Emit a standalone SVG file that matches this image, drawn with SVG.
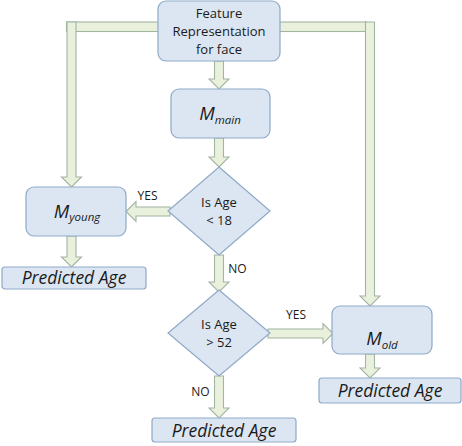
<svg xmlns="http://www.w3.org/2000/svg" width="462" height="446" viewBox="0 0 462 446">
<style>
.box{fill:#dce6f2;stroke:#8ea9c8;stroke-width:1.2}
.arr{fill:#e9f0dc;stroke:#a2b4a2;stroke-width:1.1}
.t{font-family:"Open Sans","Liberation Sans",sans-serif;fill:#1a1a1a;text-anchor:middle}
.n{font-size:13px}
.lbl{font-size:12px}
.m{font-style:italic;font-size:18.5px}
.s{font-style:italic;font-size:11.5px}
.p{font-style:italic;font-size:17.5px}
</style>
<rect width="462" height="446" fill="#ffffff"/>
<g id="connectors">
<rect class="arr" x="66.5" y="22" width="300" height="9.5"/>
<polygon class="arr" points="67,22 76,22 76,177 81.5,177 71.5,187 61.5,177 67,177"/>
<polygon class="arr" points="365.5,22 374.5,22 374.5,296 380,296 370,306 360,296 365.5,296"/>
<polygon class="arr" points="214.5,61 223.5,61 223.5,79 229,79 219,89 209,79 214.5,79"/>
<polygon class="arr" points="214.5,138 223.5,138 223.5,157 229,157 219,167 209,157 214.5,157"/>
<polygon class="arr" points="214.5,255 223.5,255 223.5,282 229,282 219,292 209,282 214.5,282"/>
<polygon class="arr" points="214.5,376 223.5,376 223.5,408 229,408 219,418 209,408 214.5,408"/>
<polygon class="arr" points="67,236 76,236 76,257 81.5,257 71.5,267 61.5,257 67,257"/>
<polygon class="arr" points="365.5,354 374.5,354 374.5,368 380,368 370,378 360,368 365.5,368"/>
<polygon class="arr" points="170,207 170,216 136,216 136,221.5 126,211.5 136,201.5 136,207"/>
<polygon class="arr" points="268,329 268,338 323,338 323,343.5 333,333.5 323,323.5 323,329"/>
<text class="t lbl" x="147.5" y="200">YES</text>
<text class="t lbl" x="237.5" y="272.5">NO</text>
<text class="t lbl" x="296" y="319">YES</text>
<text class="t lbl" x="200.5" y="396">NO</text>
</g>
<g id="feature">
<rect class="box" x="158" y="1" width="122" height="60" rx="8"/>
<text class="t n" x="219" y="18">Feature</text>
<text class="t n" x="219" y="36">Representation</text>
<text class="t n" x="219" y="54">for face</text>
</g>
<g id="m_main">
<rect class="box" x="171" y="89" width="99" height="49" rx="8"/>
<text class="t" x="220" y="120"><tspan class="m">M</tspan><tspan class="s" dy="4">main</tspan></text>
</g>
<g id="decision1">
<polygon class="box" points="219,167 270,211 219,255 168,211"/>
<text class="t n" x="219" y="207">Is Age</text>
<text class="t n" x="219" y="225">&lt; 18</text>
</g>
<g id="m_young">
<rect class="box" x="26" y="187" width="100" height="49" rx="8"/>
<text class="t" x="77" y="218"><tspan class="m">M</tspan><tspan class="s" dy="3">young</tspan></text>
</g>
<g id="pred_young">
<rect class="box" x="2" y="267" width="144" height="22" rx="3"/>
<text class="t p" x="74" y="284">Predicted Age</text>
</g>
<g id="decision2">
<polygon class="box" points="219,290 270,333 219,376 168,333"/>
<text class="t n" x="219" y="329">Is Age</text>
<text class="t n" x="219" y="347">&gt; 52</text>
</g>
<g id="m_old">
<rect class="box" x="332" y="306" width="100" height="48" rx="8"/>
<text class="t" x="382" y="345"><tspan class="m">M</tspan><tspan class="s" dy="4">old</tspan></text>
</g>
<g id="pred_old">
<rect class="box" x="319" y="378" width="142" height="25" rx="3"/>
<text class="t p" x="390" y="397">Predicted Age</text>
</g>
<g id="pred_mid">
<rect class="box" x="152" y="418" width="144" height="24" rx="3"/>
<text class="t p" x="224" y="437">Predicted Age</text>
</g>
</svg>
